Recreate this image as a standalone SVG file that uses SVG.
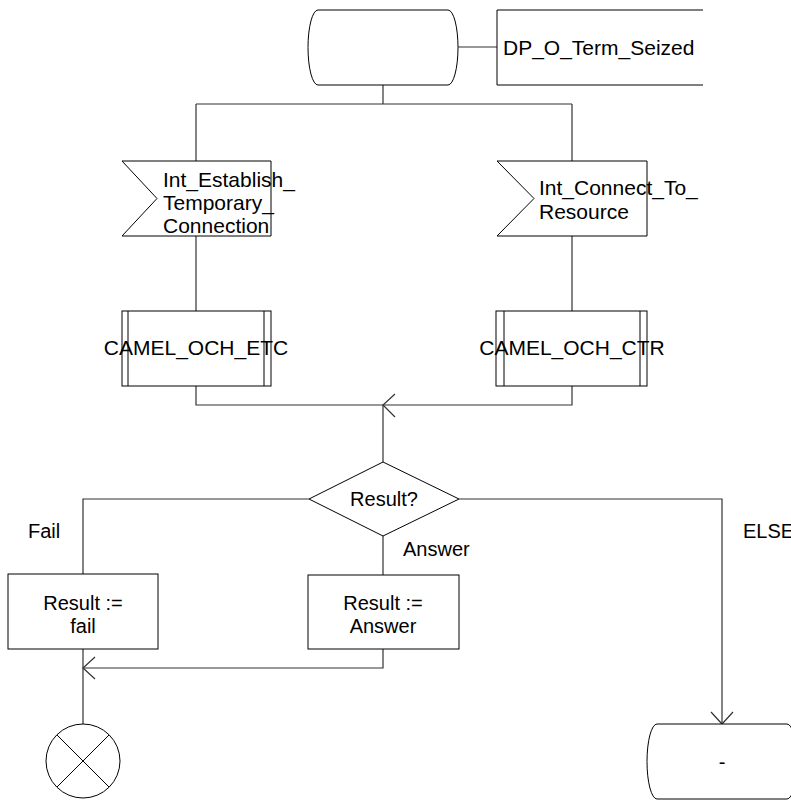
<svg xmlns="http://www.w3.org/2000/svg" width="791" height="800" viewBox="0 0 791 800">
<style>
.s{fill:#fff;stroke:#000;stroke-width:1}
.c{fill:none;stroke:#333;stroke-width:1.2}
text{font-family:"Liberation Sans",Arial,sans-serif;font-size:20px;fill:#000}
.b{font-size:21px}
.m{text-anchor:middle}
</style>
<rect width="791" height="800" fill="#fff"/>
<g id="connectors">
<path class="c" d="M458,47 H497"/>
<path class="c" d="M383,85 V104 M196,104 H572 M196,104 V161 M572,104 V161"/>
<path class="c" d="M196,236 V311 M572,236 V311"/>
<path class="c" d="M196,386 V405 H572 V386 M383,405 V462"/>
<path class="c" d="M395,394 L383,405 L395,417"/>
<path class="c" d="M309,499 H83 V574 M383,536 V575 M459,499 H722 V724"/>
<path class="c" d="M711,712 L722,724 L733,712"/>
<path class="c" d="M383,649 V668 H83 M83,649 V724"/>
<path class="c" d="M95,657 L83,668 L95,679"/>
</g>
<g id="start">
<path class="s" d="M318,10 H448 A10,37.5 0 0 1 448,85 H318 A10,37.5 0 0 1 318,10 Z"/>
</g>
<g id="dp">
<path class="s" d="M703,10 H497 V85 H703" fill="none"/>
<text class="b" x="503" y="55">DP_O_Term_Seized</text>
</g>
<g id="input_etc">
<polygon class="s" points="122,161 271,161 271,236 122,236 157,198.5"/>
<text class="b" x="163" y="187">Int_Establish_</text>
<text class="b" x="163" y="210">Temporary_</text>
<text class="b" x="163" y="233">Connection</text>
</g>
<g id="input_ctr">
<polygon class="s" points="497,161 647,161 647,236 497,236 534,198.5"/>
<text class="b" x="539" y="195">Int_Connect_To_</text>
<text class="b" x="539" y="219">Resource</text>
</g>
<g id="proc_etc">
<rect class="s" x="122" y="311" width="149" height="75"/>
<path class="s" d="M128,311 V386 M264,311 V386"/>
<text class="b m" x="196" y="355">CAMEL_OCH_ETC</text>
</g>
<g id="proc_ctr">
<rect class="s" x="496" y="311" width="151" height="75"/>
<path class="s" d="M504,311 V386 M640,311 V386"/>
<text class="b m" x="572" y="355">CAMEL_OCH_CTR</text>
</g>
<g id="decision">
<polygon class="s" points="383,462 459,499 383,536 309,499"/>
<text class="m" x="384" y="506">Result?</text>
</g>
<g id="labels">
<text x="28" y="538">Fail</text>
<text x="403" y="556">Answer</text>
<text x="743" y="538">ELSE</text>
</g>
<g id="task_fail">
<rect class="s" x="8" y="574" width="150" height="75"/>
<text class="m" x="83" y="610">Result :=</text>
<text class="m" x="83" y="633">fail</text>
</g>
<g id="task_answer">
<rect class="s" x="308" y="575" width="151" height="74"/>
<text class="m" x="383" y="610">Result :=</text>
<text class="m" x="383" y="633">Answer</text>
</g>
<g id="stop">
<circle class="s" cx="83" cy="761" r="37"/>
<path class="s" d="M57,735 L109,787 M109,735 L57,787"/>
</g>
<g id="end_else">
<path class="s" d="M657,724 H787 A10,37.5 0 0 1 787,799 H657 A10,37.5 0 0 1 657,724 Z"/>
<text class="m" x="722" y="769">-</text>
</g>
</svg>
